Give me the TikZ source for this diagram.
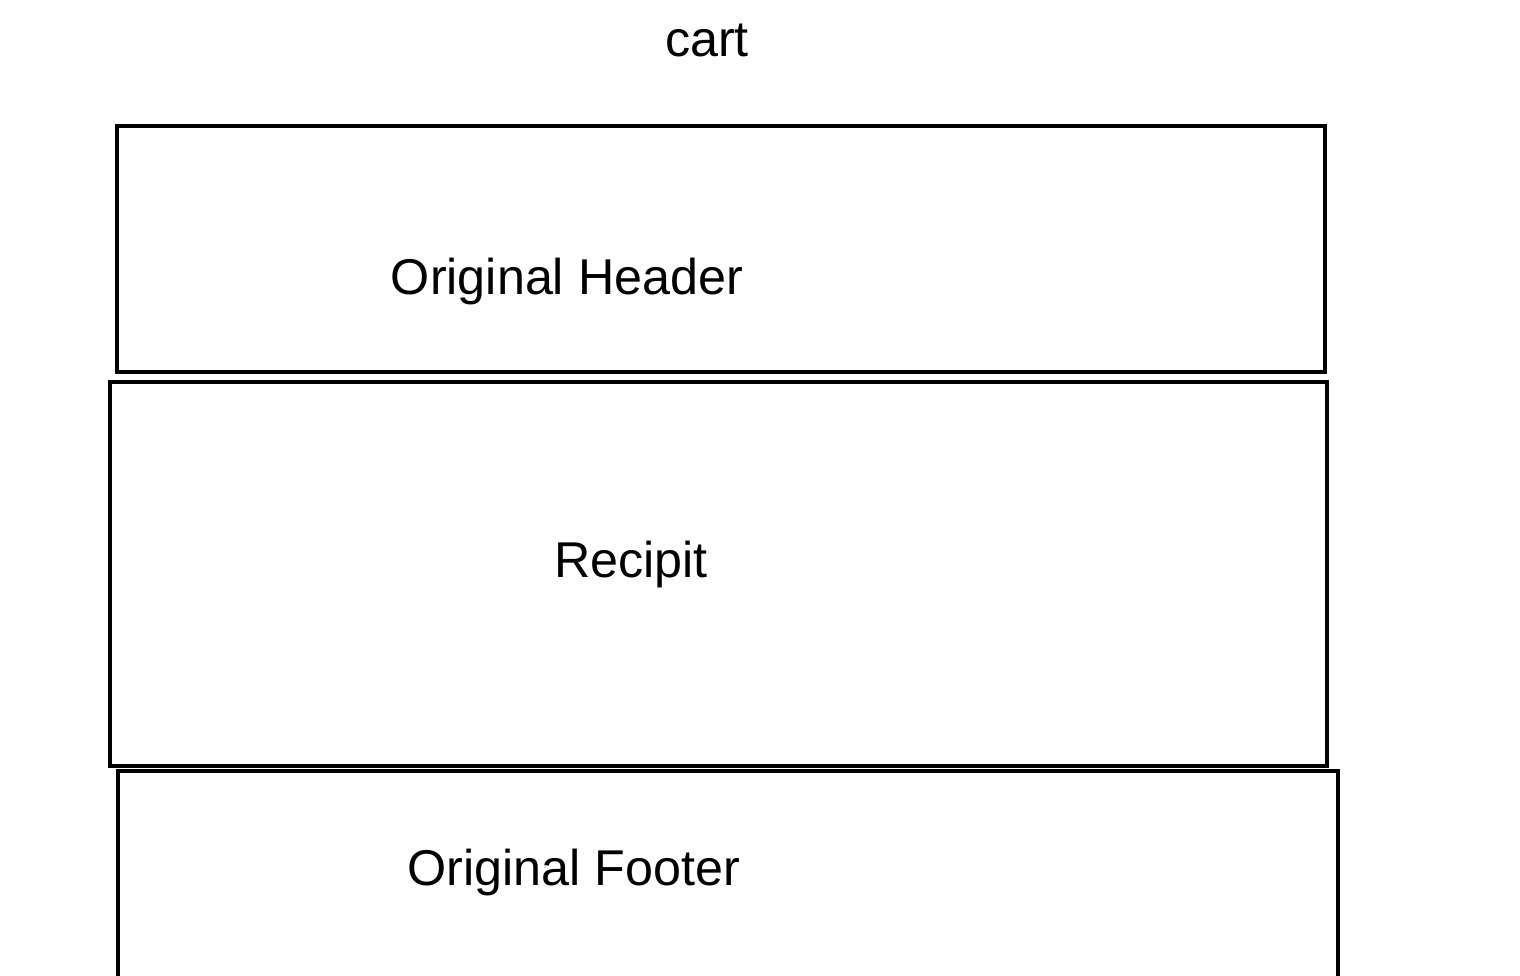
\documentclass[tikz,border=0pt]{standalone}
\usepackage{fontspec}
\setmainfont{Liberation Sans}
\usepackage{tikz}

\tikzset{
    pagebox/.style={draw=black, line width=0.4mm, inner sep=0pt, outer sep=0pt},
    label text/.style={font=\fontsize{14.3pt}{17pt}\selectfont, inner sep=0pt}
}

\begin{document}
\begin{tikzpicture}[x=0.01cm,y=-0.01cm]
        % Fix the page size
        \useasboundingbox (0,0) rectangle (1520,976);
        \clip (0,0) rectangle (1520,976);

        % Draw the page parts
        \node[pagebox, minimum width=12.08cm, minimum height=2.46cm] (header) at (721,249) {};
        \node[pagebox, minimum width=12.17cm, minimum height=3.84cm] (recipit) at (718.5,574) {};
        \node[pagebox, minimum width=12.20cm, minimum height=2.39cm] (footer) at (728,890.5) {};

        % Label the parts
        \node[label text] (title) at (707,40) {cart};
        \node[label text] (headertext) at (567,282) {Original Header};
        \node[label text] (recipittext) at (631,564) {Recipit};
        \node[label text] (footertext) at (574,872) {Original Footer};
    \end{tikzpicture}
\end{document}
